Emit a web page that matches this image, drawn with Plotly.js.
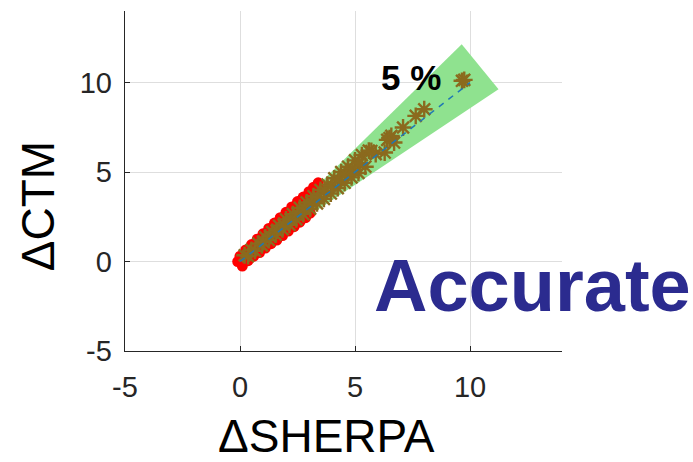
<!DOCTYPE html>
<html><head><meta charset="utf-8">
<script src="https://cdn.plot.ly/plotly-3.0.1.min.js"></script>
<style>html,body{margin:0;padding:0;background:#fff;}#chart{width:693px;height:462px;}</style>
</head><body><div id="chart"></div>
<script>
// Wedge (5 % band) corners
const wedgeX = [0, 9.64, 11.24, 0];
const wedgeY = [0, 12.14, 9.63, 0];
// Red point cloud
const redX = [0.0,0.25,0.5,0.75,1.0,1.25,1.5,1.75,2.0,2.25,2.5,2.75,3.0,3.2,3.4,
              0.1,0.35,0.6,0.85,1.1,1.35,1.6,1.85,2.1,2.35,2.6,2.85,3.05,
              -0.1,0.2,0.45,0.7,0.95,1.2,1.45,1.7,1.95,2.2,2.45,2.7,2.95,3.2,3.45];
const redY = [0.3,0.65,0.95,1.25,1.55,1.85,2.15,2.45,2.75,3.05,3.35,3.6,3.9,4.15,4.4,
              -0.25,0.05,0.3,0.5,0.75,1.0,1.2,1.45,1.7,1.95,2.2,2.45,2.7,
              0.0,0.25,0.55,0.85,1.1,1.4,1.65,1.95,2.2,2.5,2.75,3.05,3.3,3.6,4.0];
// CTM vs SHERPA asterisks
const astX = [0.2,0.5,0.8,1.1,1.4,1.7,2.0,2.3,2.6,2.9,3.2,3.5,3.8,4.1,4.4,4.7,5.0,5.3,5.6,
              0.35,0.65,0.95,1.25,1.55,1.85,2.15,2.45,2.75,3.05,3.35,3.65,3.95,4.25,4.55,4.85,5.15,5.45,
              1.0,1.3,1.6,1.9,2.2,2.5,2.8,3.1,3.4,3.7,4.0,4.3,4.6,4.9,5.2,
              5.71,5.9,6.29,6.4,6.5,6.58,6.7,7.09,7.64,8.01,9.65,9.75];
const astY = [0.35,0.65,1.0,1.35,1.65,2.0,2.35,2.65,3.0,3.3,3.65,4.0,4.3,4.65,5.0,5.3,5.65,5.95,6.2,
              0.3,0.6,0.9,1.2,1.5,1.8,2.05,2.35,2.65,2.95,3.25,3.5,3.8,4.1,4.4,4.7,4.95,5.3,
              1.1,1.42,1.73,2.05,2.36,2.68,2.99,3.31,3.62,3.94,4.25,4.57,4.88,5.2,5.51,
              6.18,6.0,6.09,6.8,6.9,7.02,6.65,7.49,8.14,8.51,10.1,10.15];
// 1:1 reference line
const refX = [0, 10];
const refY = [0, 10];
const tickVals = [-5, 0, 5, 10];
const tickText = ['-5', '0', '5', '10'];

const font = 'Liberation Sans, Arial, Helvetica, sans-serif';
const data = [
  {x: wedgeX, y: wedgeY, type: 'scatter', mode: 'lines', fill: 'toself',
   fillcolor: '#8fe28f', line: {width: 0, color: '#8fe28f'}, hoverinfo: 'skip'},
  {x: redX, y: redY, type: 'scatter', mode: 'markers',
   marker: {color: '#ff0000', size: 11, line: {width: 0}}},
  {x: astX, y: astY, type: 'scatter', mode: 'markers',
   marker: {symbol: 'asterisk-open', color: '#8b6a1e', size: 14, line: {width: 2.4, color: '#8b6a1e'}}},
  {x: refX, y: refY, type: 'scatter', mode: 'lines',
   line: {color: '#1f77b4', width: 1.5, dash: '6px,6px'}}
];
const axisCommon = {
  tickvals: tickVals, ticktext: tickText, range: [-5, 14],
  showgrid: true, gridcolor: '#dedede', gridwidth: 1,
  zeroline: false, showline: true, linecolor: '#262626', linewidth: 1.3,
  ticks: 'inside', ticklen: 5, tickcolor: '#262626', tickwidth: 1,
  tickfont: {family: font, size: 29, color: '#262626'}, mirror: false
};
const layout = {
  width: 693, height: 462,
  margin: {l: 125, r: 131, t: 11, b: 111},
  paper_bgcolor: '#ffffff', plot_bgcolor: '#ffffff',
  showlegend: false,
  xaxis: Object.assign({}, axisCommon, {ticklabelstandoff: 10}),
  yaxis: Object.assign({}, axisCommon, {ticklabelstandoff: 6}),
  annotations: [
    {x: 7.45, y: 10.3, xref: 'x', yref: 'y', text: '<b>5 %</b>', showarrow: false,
     font: {family: font, size: 35, color: '#000000'}, xanchor: 'center', yanchor: 'middle'},
    {x: 5.72, y: -1.36, xref: 'x', yref: 'y', text: '<b>Accurate</b>', showarrow: false,
     font: {family: font, size: 74, color: '#2b2b8f'}, xanchor: 'left', yanchor: 'middle'},
    {x: 0.462, y: -0.25, xref: 'paper', yref: 'paper', text: 'ΔSHERPA', showarrow: false,
     font: {family: font, size: 46, color: '#000000'}, xanchor: 'center', yanchor: 'middle'},
    {x: -0.199, y: 0.426, xref: 'paper', yref: 'paper', text: 'ΔCTM', showarrow: false, textangle: -90,
     font: {family: font, size: 46, color: '#000000'}, xanchor: 'center', yanchor: 'middle'}
  ]
};
Plotly.newPlot('chart', data, layout, {displayModeBar: false, staticPlot: true});
</script></body></html>
